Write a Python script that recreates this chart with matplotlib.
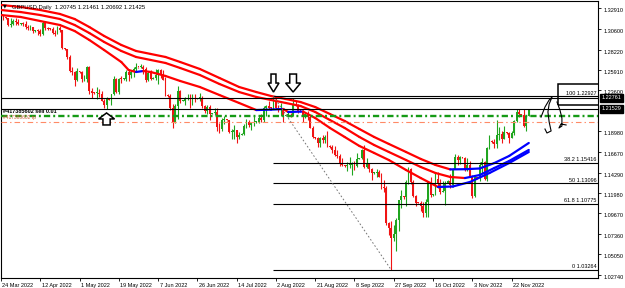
import matplotlib

matplotlib.use("Agg")
import matplotlib.pyplot as plt  # noqa: E402
import numpy as np  # noqa: E402
import pandas as pd  # noqa: E402
from matplotlib.collections import LineCollection  # noqa: E402
from matplotlib.patches import Polygon, Rectangle  # noqa: E402
from matplotlib.transforms import ScaledTranslation  # noqa: E402

plt.rcParams["font.family"] = ["Liberation Sans", "DejaVu Sans"]
plt.rcParams["lines.scale_dashes"] = False

# GBPUSD daily, broker feed with Sunday bars (every day except Saturday)
days = pd.date_range("2022-03-24", "2022-11-30")
dates = days[days.dayofweek != 5]

first_open = 1.3185
# one row per week: Sun Mon Tue Wed Thu Fri
closes = [1.3190, 1.3185,
          1.3175, 1.3100, 1.3110, 1.3145, 1.3135, 1.3110,
          1.3115, 1.3110, 1.3075, 1.3070, 1.3075, 1.3030,
          1.3035, 1.3030, 1.3000, 1.3120, 1.3065, 1.3060,
          1.3055, 1.3010, 1.3000, 1.3070, 1.3040, 1.2835,
          1.2830, 1.2735, 1.2575, 1.2570, 1.2475, 1.2575,
          1.2565, 1.2490, 1.2495, 1.2630, 1.2355, 1.2335,
          1.2330, 1.2330, 1.2320, 1.2245, 1.2200, 1.2260,
          1.2255, 1.2315, 1.2490, 1.2345, 1.2490, 1.2485,
          1.2490, 1.2570, 1.2530, 1.2570, 1.2600, 1.2625,
          1.2620, 1.2630, 1.2600, 1.2480, 1.2560, 1.2490,
          1.2500, 1.2530, 1.2590, 1.2530, 1.2480, 1.2310,
          1.2300, 1.2160, 1.2000, 1.2180, 1.2350, 1.2240,
          1.2245, 1.2265, 1.2275, 1.2265, 1.2275, 1.2265,
          1.2270, 1.2270, 1.2185, 1.2125, 1.2175, 1.2095,
          1.2100, 1.2120, 1.1945, 1.1920, 1.2030, 1.2030,
          1.2020, 1.1890, 1.1890, 1.1915, 1.1830, 1.1860,
          1.1865, 1.1960, 1.2000, 1.1970, 1.1990, 1.2000,
          1.2005, 1.2050, 1.2030, 1.2160, 1.2180, 1.2165,
          1.2160, 1.2240, 1.2160, 1.2145, 1.2150, 1.2075,
          1.2080, 1.2085, 1.2075, 1.2210, 1.2200, 1.2130,
          1.2125, 1.2055, 1.2095, 1.2055, 1.1940, 1.1830,
          1.1820, 1.1765, 1.1825, 1.1795, 1.1830, 1.1735,
          1.1725, 1.1690, 1.1630, 1.1620, 1.1535, 1.1510,
          1.1505, 1.1515, 1.1515, 1.1530, 1.1505, 1.1585,
          1.1590, 1.1680, 1.1495, 1.1535, 1.1470, 1.1420,
          1.1425, 1.1435, 1.1380, 1.1265, 1.1255, 1.0860,
          1.0800, 1.0690, 1.0735, 1.0890, 1.1115, 1.1165,
          1.1150, 1.1325, 1.1475, 1.1320, 1.1160, 1.1090,
          1.1080, 1.1055, 1.0970, 1.1100, 1.1325, 1.1175,
          1.1180, 1.1360, 1.1315, 1.1205, 1.1225, 1.1310,
          1.1330, 1.1290, 1.1475, 1.1610, 1.1575, 1.1610,
          1.1600, 1.1465, 1.1510, 1.1395, 1.1160, 1.1375,
          1.1370, 1.1510, 1.1545, 1.1355, 1.1710, 1.1790,
          1.1780, 1.1755, 1.1855, 1.1870, 1.1815, 1.1890,
          1.1880, 1.1825, 1.1880, 1.2010, 1.2115, 1.2090,
          1.2085, 1.1960, 1.2075, 1.21425]
highs = [1.3225, 1.3215,
         1.3190, 1.3180, 1.3180, 1.3170, 1.3180, 1.3165,
         1.3120, 1.3135, 1.3145, 1.3100, 1.3105, 1.3080,
         1.3040, 1.3055, 1.3055, 1.3150, 1.3145, 1.3080,
         1.3065, 1.3075, 1.3045, 1.3090, 1.3090, 1.3045,
         1.2845, 1.2830, 1.2765, 1.2620, 1.2585, 1.2615,
         1.2575, 1.2575, 1.2535, 1.2640, 1.2635, 1.2385,
         1.2340, 1.2400, 1.2375, 1.2355, 1.2265, 1.2285,
         1.2265, 1.2325, 1.2525, 1.2500, 1.2500, 1.2525,
         1.2500, 1.2590, 1.2600, 1.2595, 1.2620, 1.2666,
         1.2630, 1.2665, 1.2650, 1.2620, 1.2585, 1.2590,
         1.2510, 1.2600, 1.2600, 1.2600, 1.2590, 1.2510,
         1.2315, 1.2325, 1.2205, 1.2205, 1.2405, 1.2365,
         1.2255, 1.2285, 1.2325, 1.2315, 1.2325, 1.2320,
         1.2280, 1.2330, 1.2300, 1.2195, 1.2190, 1.2200,
         1.2110, 1.2165, 1.2160, 1.1990, 1.2045, 1.2075,
         1.2030, 1.2010, 1.1925, 1.1970, 1.1905, 1.1890,
         1.1875, 1.1985, 1.2035, 1.2020, 1.2000, 1.2065,
         1.2015, 1.2065, 1.2090, 1.2185, 1.2200, 1.2245,
         1.2170, 1.2293, 1.2280, 1.2200, 1.2215, 1.2165,
         1.2090, 1.2130, 1.2110, 1.2275, 1.2245, 1.2210,
         1.2135, 1.2140, 1.2110, 1.2125, 1.2080, 1.1960,
         1.1830, 1.1835, 1.1830, 1.1850, 1.1850, 1.1900,
         1.1740, 1.1745, 1.1730, 1.1690, 1.1635, 1.1590,
         1.1515, 1.1550, 1.1610, 1.1545, 1.1560, 1.1650,
         1.1600, 1.1700, 1.1740, 1.1590, 1.1540, 1.1480,
         1.1435, 1.1465, 1.1460, 1.1420, 1.1350, 1.1275,
         1.0870, 1.0880, 1.0840, 1.0915, 1.1120, 1.1235,
         1.1165, 1.1345, 1.1495, 1.1480, 1.1350, 1.1180,
         1.1090, 1.1110, 1.1100, 1.1125, 1.1340, 1.1380,
         1.1190, 1.1440, 1.1440, 1.1355, 1.1335, 1.1335,
         1.1350, 1.1410, 1.1480, 1.1645, 1.1630, 1.1620,
         1.1610, 1.1610, 1.1590, 1.1565, 1.1400, 1.1390,
         1.1385, 1.1545, 1.1590, 1.1560, 1.1715, 1.1855,
         1.1795, 1.1815, 1.2030, 1.1950, 1.1905, 1.1955,
         1.1895, 1.1885, 1.1905, 1.2030, 1.2150, 1.2150,
         1.2095, 1.2155, 1.2080, 1.21461]
lows = [1.3150, 1.3160,
        1.3170, 1.3090, 1.3080, 1.3100, 1.3105, 1.3100,
        1.3105, 1.3090, 1.3060, 1.3050, 1.3050, 1.3010,
        1.3025, 1.2985, 1.2975, 1.2985, 1.3050, 1.3050,
        1.3050, 1.3000, 1.2980, 1.2995, 1.3020, 1.2825,
        1.2815, 1.2715, 1.2570, 1.2540, 1.2410, 1.2470,
        1.2555, 1.2460, 1.2465, 1.2460, 1.2325, 1.2275,
        1.2315, 1.2260, 1.2290, 1.2235, 1.2165, 1.2155,
        1.2250, 1.2200, 1.2310, 1.2335, 1.2320, 1.2445,
        1.2480, 1.2470, 1.2465, 1.2505, 1.2515, 1.2580,
        1.2615, 1.2610, 1.2550, 1.2460, 1.2470, 1.2480,
        1.2490, 1.2480, 1.2430, 1.2500, 1.2475, 1.2300,
        1.2290, 1.2135, 1.1934, 1.1990, 1.2040, 1.2220,
        1.2235, 1.2200, 1.2250, 1.2160, 1.2200, 1.2225,
        1.2260, 1.2240, 1.2165, 1.2110, 1.2090, 1.2030,
        1.2090, 1.2080, 1.1900, 1.1875, 1.1900, 1.1975,
        1.2010, 1.1875, 1.1805, 1.1810, 1.1760, 1.1805,
        1.1855, 1.1850, 1.1935, 1.1950, 1.1915, 1.1960,
        1.1995, 1.1990, 1.2000, 1.2005, 1.2065, 1.2155,
        1.2150, 1.2155, 1.2150, 1.2115, 1.2065, 1.2005,
        1.2070, 1.2060, 1.2055, 1.2070, 1.2180, 1.2105,
        1.2115, 1.2005, 1.2045, 1.2030, 1.1935, 1.1825,
        1.1805, 1.1715, 1.1715, 1.1765, 1.1770, 1.1720,
        1.1710, 1.1650, 1.1620, 1.1595, 1.1500, 1.1500,
        1.1490, 1.1445, 1.1480, 1.1405, 1.1460, 1.1490,
        1.1580, 1.1580, 1.1480, 1.1480, 1.1440, 1.1350,
        1.1410, 1.1380, 1.1375, 1.1240, 1.1210, 1.0840,
        1.0720, 1.0326, 1.0660, 1.0540, 1.0765, 1.1025,
        1.1130, 1.1050, 1.1300, 1.1300, 1.1150, 1.1055,
        1.1070, 1.0995, 1.0925, 1.0925, 1.0925, 1.1150,
        1.1165, 1.1175, 1.1250, 1.1190, 1.1210, 1.1060,
        1.1315, 1.1255, 1.1270, 1.1465, 1.1520, 1.1525,
        1.1590, 1.1445, 1.1445, 1.1385, 1.1147, 1.1150,
        1.1360, 1.1340, 1.1430, 1.1345, 1.1335, 1.1700,
        1.1770, 1.1710, 1.1710, 1.1800, 1.1765, 1.1830,
        1.1870, 1.1765, 1.1820, 1.1860, 1.2000, 1.2060,
        1.2075, 1.1945, 1.1900, 1.20692]

# moving-average channel (bar index, price)
ma_upper_x = [0, 8, 16, 24, 30, 36, 42, 49, 55, 61, 67, 73, 81, 89, 97, 104, 110, 116, 122,
              128, 134, 140, 146, 152, 158, 165, 171, 177, 183, 189, 195, 201, 207, 215]
ma_upper_y = [1.3328, 1.3305, 1.3271, 1.3226, 1.3169, 1.3078, 1.2977, 1.2875, 1.2807, 1.2773,
              1.2739, 1.2682, 1.2603, 1.2501, 1.2399, 1.2342, 1.2297, 1.2263, 1.2229, 1.2172,
              1.2093, 1.2014, 1.1923, 1.1833, 1.1754, 1.1663, 1.1584, 1.1516, 1.1466, 1.1468,
              1.1476, 1.1538, 1.1618, 1.1765]
ma_mid_x = [0, 8, 16, 24, 30, 36, 42, 49, 55, 61, 67, 73, 81, 89, 97, 104, 110, 116, 122,
            128, 134, 140, 146, 152, 158, 165, 171, 177, 183, 189, 195, 201, 207, 215]
ma_mid_y = [1.3271, 1.3248, 1.3214, 1.3169, 1.3101, 1.3010, 1.2909, 1.2807, 1.2739, 1.2705,
            1.2671, 1.2614, 1.2535, 1.2433, 1.2342, 1.2286, 1.2252, 1.2218, 1.2184, 1.2116,
            1.2025, 1.1935, 1.1833, 1.1742, 1.1663, 1.1572, 1.1493, 1.1425, 1.1380, 1.1368,
            1.1402, 1.1482, 1.1561, 1.1686]
ma_lower_x = [0, 8, 16, 24, 30, 36, 42, 49, 52, 55, 58, 61, 67, 73, 81, 89, 97, 104, 110,
              115, 117, 123, 128, 134, 140, 146, 152, 158, 165, 171, 178, 184, 191, 199, 207,
              215]
ma_lower_y = [1.3214, 1.3192, 1.3146, 1.3101, 1.3033, 1.2931, 1.2818, 1.2682, 1.2591, 1.2569,
              1.2580, 1.2569, 1.2524, 1.2467, 1.2399, 1.2308, 1.2218, 1.2138, 1.2143, 1.2150,
              1.2116, 1.2121, 1.2048, 1.1935, 1.1833, 1.1731, 1.1652, 1.1572, 1.1459, 1.1368,
              1.1267, 1.1272, 1.1323, 1.1425, 1.1538, 1.1663]

# Fibonacci retracement from the 1 Aug high to the 26 Sep low
fib_from, fib_to = 111, 159
fib_levels = ["0", "38.2", "50", "61.8", "100"]
fib_prices = [1.03264, 1.15416, 1.13096, 1.10775, 1.22927]

hline_prices = [1.22761, 1.21529]
order_open = 1.2076
order_tp = 1.2008
order_tag = "#417385602"

# hand-drawn arrows: (bar index, tip price, direction)
arrow_marks = [(43, 1.2105, "up"), (111, 1.2342, "down"), (119, 1.2342, "down")]
# freehand strokes near the right edge
stroke_a_x = [220.0, 221.6, 223.3, 224.5, 223.3, 222.8, 223.3, 224.1, 222.4, 221.6]
stroke_a_y = [1.2059, 1.2172, 1.2252, 1.2286, 1.2206, 1.2116, 1.2003, 1.1901, 1.1878, 1.1923]
stroke_b_x = [226.5, 227.7, 228.5, 228.5, 227.3, 228.1, 230.2]
stroke_b_y = [1.2229, 1.2138, 1.2048, 1.1957, 1.1935, 1.1980, 1.1969]
box_x0, box_y0, box_y1 = 226.8, 1.2195, 1.2430

price_ticks = [1.32910, 1.30600, 1.28220, 1.25910, 1.23600, 1.18980, 1.16670, 1.14290,
               1.11980, 1.09670, 1.07360, 1.05050, 1.02740]
title = "GBPUSD,Daily  1.20745 1.21461 1.20692 1.21425"

GREEN = "#1fa51f"
RED = "#f01414"

fig = plt.figure(figsize=(6.25, 2.88), dpi=100)
ax = fig.add_axes([1 / 625, 10 / 288, 597 / 625, 277.5 / 288])
xlim = (0.1, 243.2)
ylim = (1.02359, 1.33786)
ax.set_xlim(*xlim)
ax.set_ylim(*ylim)
bx = (xlim[1] - xlim[0]) / 597  # bars per pixel
py = (ylim[1] - ylim[0]) / 277.5  # price per pixel

# candles
x = np.arange(len(closes))
c = np.array(closes)
h = np.array(highs)
lo = np.array(lows)
o = np.r_[first_open, c[:-1]]
h = np.maximum(h, np.maximum(o, c))
lo = np.minimum(lo, np.minimum(o, c))
col = np.where(c >= o, GREEN, RED)
ax.vlines(x, lo, h, colors=col, lw=0.8, zorder=2)
body = np.maximum(np.abs(c - o), py * 1.0)
ax.bar(x, body, bottom=np.minimum(o, c), width=0.75, color=col, lw=0, zorder=2)

# moving averages: blue while rising, red while falling
for mx, my in [(ma_upper_x, ma_upper_y), (ma_mid_x, ma_mid_y), (ma_lower_x, ma_lower_y)]:
    pts = np.column_stack([mx, my])
    segs = np.stack([pts[:-1], pts[1:]], axis=1)
    cols = ["#0000ff" if b > a else "#ff0000" for a, b in zip(my[:-1], my[1:])]
    ax.add_collection(LineCollection(segs, colors=cols, lw=1.6, zorder=3, capstyle="round",
                                     joinstyle="round"))

# horizontal lines
for p in hline_prices:
    ax.axhline(p, color="black", lw=0.8, zorder=4)
ax.axhline(order_open, color="#159a15", lw=1.7, dashes=(4.5, 2.2, 1.4, 2.2), zorder=4)
ax.axhline(order_tp, color="#ff8a66", lw=0.8, dashes=(4, 2.2, 1, 2.2), zorder=4)

# fibonacci
for lvl, p in zip(fib_levels, fib_prices):
    ax.hlines(p, fib_from, xlim[1], color="black", lw=0.8, zorder=4)
    ax.text(xlim[1] - 1.5 * bx, p + 0.6 * py, f"{lvl} {p:.5f}", ha="right", va="bottom",
            fontsize=4, zorder=6)
ax.plot([fib_from, fib_to], [fib_prices[-1], fib_prices[0]], color="#777777", lw=0.7,
        dashes=(1.2, 1.5), zorder=4)

# rectangle and freehand strokes
ax.add_patch(Rectangle((box_x0, box_y0), 40, box_y1 - box_y0, fill=False, ec="black",
                       lw=1.1, zorder=5))
ax.plot(stroke_a_x, stroke_a_y, color="black", lw=0.8, zorder=5)
ax.plot(stroke_b_x, stroke_b_y, color="black", lw=0.8, zorder=5)


def block_arrow(xc, tip, direction, w_px, h_px):
    s = 1 if direction == "down" else -1
    sw, hh = 0.45 * w_px, 0.5 * h_px
    verts_px = [(-sw / 2, h_px), (sw / 2, h_px), (sw / 2, hh), (w_px / 2, hh), (0, 0),
                (-w_px / 2, hh), (-sw / 2, hh)]
    verts = [(xc + vx * bx, tip + s * vy * py) for vx, vy in verts_px]
    ax.add_patch(Polygon(verts, closed=True, fc="white", ec="black", lw=1.1, zorder=6))


for (bi, tip, d), (wp, hp) in zip(arrow_marks, [(16, 12), (11, 18), (15, 18)]):
    block_arrow(bi, tip, d, wp, hp)

# axes styling (MT4 look)
for s in ax.spines.values():
    s.set_color("black")
    s.set_linewidth(0.8)
ax.yaxis.tick_right()
ax.set_yticks(price_ticks)
ax.set_yticklabels([f"{p:.5f}" for p in price_ticks])
ax.tick_params(axis="y", length=2.5, width=0.6, labelsize=4, pad=1.5)
for lab in ax.get_yticklabels():
    lab.set_transform(lab.get_transform() + ScaledTranslation(0, -2 / 100, fig.dpi_scale_trans))

tick_idx = list(range(0, len(dates), 16))
ax.set_xticks(tick_idx)
ax.set_xticklabels([f"{dates[i].day} {dates[i]:%b %Y}" for i in tick_idx])
ax.tick_params(axis="x", length=2.5, width=0.6, labelsize=4, pad=1)
for lab in ax.get_xticklabels():
    lab.set_ha("left")
    lab.set_transform(lab.get_transform() + ScaledTranslation(1.5 / 100, 0, fig.dpi_scale_trans))

# price tags of the horizontal lines on the scale
for p in hline_prices:
    ax.text(1.006, p, f"{p:.5f}", transform=ax.get_yaxis_transform(), color="white",
            fontsize=4, va="center", ha="left", clip_on=False, zorder=7,
            bbox=dict(boxstyle="square,pad=0.25", fc="black", ec="black"))

# chart header and trade labels
fig.text(3 / 625, 1 - 6 / 288, "▼", fontsize=3.5, va="center", family="DejaVu Sans")
fig.text(12 / 625, 1 - 7 / 288, title, fontsize=4.2, va="center")
fig.text(3 / 625, 1 - 111 / 288, f"{order_tag} sell 0.01", fontsize=4, va="center",
         fontweight="bold")
fig.text(3 / 625, 1 - 117.5 / 288, f"{order_tag} tp", fontsize=3.5, va="center",
         color="#d0603a")

fig.savefig("out.png", dpi=100)
